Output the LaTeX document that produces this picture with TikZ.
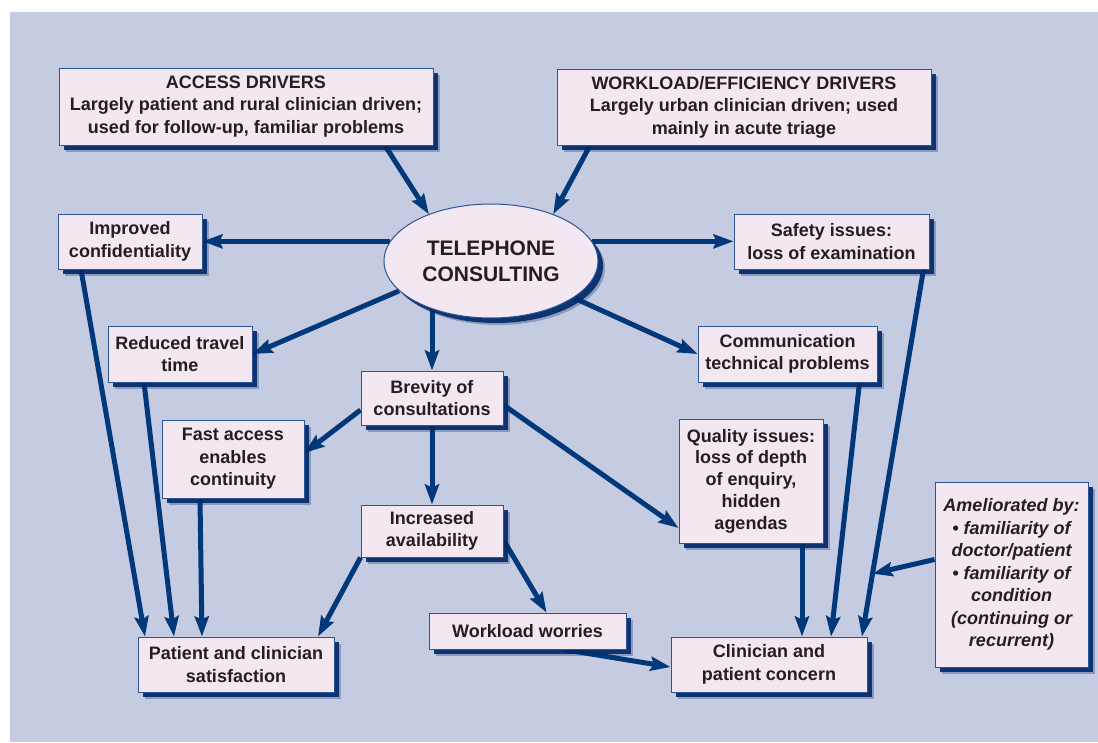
\documentclass[tikz,border=0pt]{standalone}
\usepackage{fontspec}
\setmainfont{Liberation Sans}
\usetikzlibrary{shapes.geometric,shadows,arrows.meta,calc}
\definecolor{bgc}{RGB}{197,203,224}
\definecolor{boxc}{RGB}{243,231,241}
\definecolor{arrc}{RGB}{0,56,122}
\definecolor{edgec}{RGB}{45,85,150}
\definecolor{shc}{RGB}{0,42,105}
\definecolor{txtc}{RGB}{35,31,32}
\pgfdeclarelayer{bg}
\pgfsetlayers{bg,main}
\begin{document}
\begin{tikzpicture}[x=1pt,y=-1pt,
  box/.style={draw=edgec, line width=1pt, fill=boxc, inner sep=0pt, align=center, text=txtc,
    font=\fontsize{18}{22.5}\selectfont\bfseries,
    drop shadow={shadow xshift=5pt,shadow yshift=-5pt,fill=shc,opacity=0.9},
    drop shadow={shadow xshift=7pt,shadow yshift=-7pt,fill=shc,opacity=0.3}},
  arr/.style={draw=arrc, line width=5pt, -{Stealth[length=20pt,width=14pt,inset=3pt]}}]
\useasboundingbox (0,0) rectangle (1098,742);
\begin{pgfonlayer}{bg}
\fill[bgc] (10,12) rectangle (1098,742);
\end{pgfonlayer}

\node[box, minimum width=374pt, minimum height=77pt] (access) at (246,106.5)
  {ACCESS DRIVERS\\Largely patient and rural clinician driven;\\used for follow-up, familiar problems};
\node[box, minimum width=374pt, minimum height=76pt] (workload) at (744,107)
  {WORKLOAD/EFFICIENCY DRIVERS\\Largely urban clinician driven; used\\mainly in acute triage};
\node[box, ellipse, minimum width=214pt, minimum height=114pt, font=\fontsize{21}{26}\selectfont\bfseries] (tel) at (491,261)
  {TELEPHONE\\CONSULTING};
\node[box, minimum width=144pt, minimum height=55pt] (conf) at (130,241.5) {Improved\\confidentiality};
\node[box, minimum width=144pt, minimum height=56pt] (travel) at (180,354) {Reduced travel\\time};
\node[box, minimum width=195pt, minimum height=55pt] (safety) at (831.5,241.5) {Safety issues:\\loss of examination};
\node[box, minimum width=179pt, minimum height=56pt] (comm) at (787.5,354) {Communication\\technical problems};
\node[box, minimum width=142pt, minimum height=54pt] (brevity) at (432,398) {Brevity of\\consultations};
\node[box, minimum width=142pt, minimum height=78pt] (fast) at (233,459) {Fast access\\enables\\continuity};
\node[box, minimum width=142pt, minimum height=52pt] (avail) at (432,531) {Increased\\availability};
\node[box, minimum width=144pt, minimum height=124pt, font=\fontsize{18}{21.7}\selectfont\bfseries] (quality) at (751,481)
  {Quality issues:\\loss of depth\\of enquiry,\\hidden\\agendas};
\node[box, minimum width=153pt, minimum height=185pt, font=\fontsize{18}{22.5}\selectfont\bfseries\itshape] (amel) at (1011.5,574.5)
  {Ameliorated by:\\\textbullet{} familiarity of\\doctor/patient\\\textbullet{} familiarity of\\condition\\(continuing or\\recurrent)};
\node[box, minimum width=196pt, minimum height=55pt] (psat) at (236,664.5) {Patient and clinician\\satisfaction};
\node[box, minimum width=197pt, minimum height=36pt] (worries) at (527.5,631) {Workload worries};
\node[box, minimum width=196pt, minimum height=55pt] (concern) at (769,664.5) {Clinician and\\patient concern};

\coordinate (s1) at ([xshift=92pt]safety.south);
\coordinate (s2) at ([xshift=93pt]concern.north);
\coordinate (sx) at ($(s1)!0.829!(s2)$);

\begin{pgfonlayer}{bg}
\draw[arr] ([xshift=139pt]access.south) -- (tel.143);
\draw[arr] ([xshift=-154pt]workload.south) -- (tel.37);
\draw[arr] (tel.169) -- (tel.169 -| conf.east);
\draw[arr] (tel.11) -- (tel.11 -| safety.west);
\draw[arr] (tel.198) -- (travel.east);
\draw[arr] (tel.336) -- (comm.west);
\draw[arr] (brevity.north |- tel.219) -- (brevity.north);
\draw[arr] ([yshift=-12pt]brevity.west) -- ([yshift=6pt]fast.east);
\draw[arr] (brevity.south) -- (avail.north);
\draw[arr] ([yshift=-7pt]brevity.east) -- ([yshift=-47pt]quality.west);
\draw[arr] ([yshift=-9pt]avail.east) -- ([xshift=19pt]worries.north);
\draw[arr] (avail.south west) -- ([xshift=82pt]psat.north);
\draw[arr] ([xshift=-49pt]conf.south) -- ([xshift=-91pt]psat.north);
\draw[arr] ([xshift=-36pt]travel.south) -- ([xshift=-62pt]psat.north);
\draw[arr] ([xshift=-33pt]fast.south) -- ([xshift=-34pt]psat.north);
\draw[arr] ([xshift=36pt]worries.south) -- ([yshift=-2.5pt]concern.west);
\draw[arr] ([xshift=51pt]quality.south) -- ([xshift=33pt]concern.north);
\draw[arr] ([xshift=72pt]comm.south) -- ([xshift=62pt]concern.north);
\draw[arr] (s1) -- (s2);
\draw[arr] ([yshift=15pt]amel.west) -- (sx);
\end{pgfonlayer}
\end{tikzpicture}
\end{document}
